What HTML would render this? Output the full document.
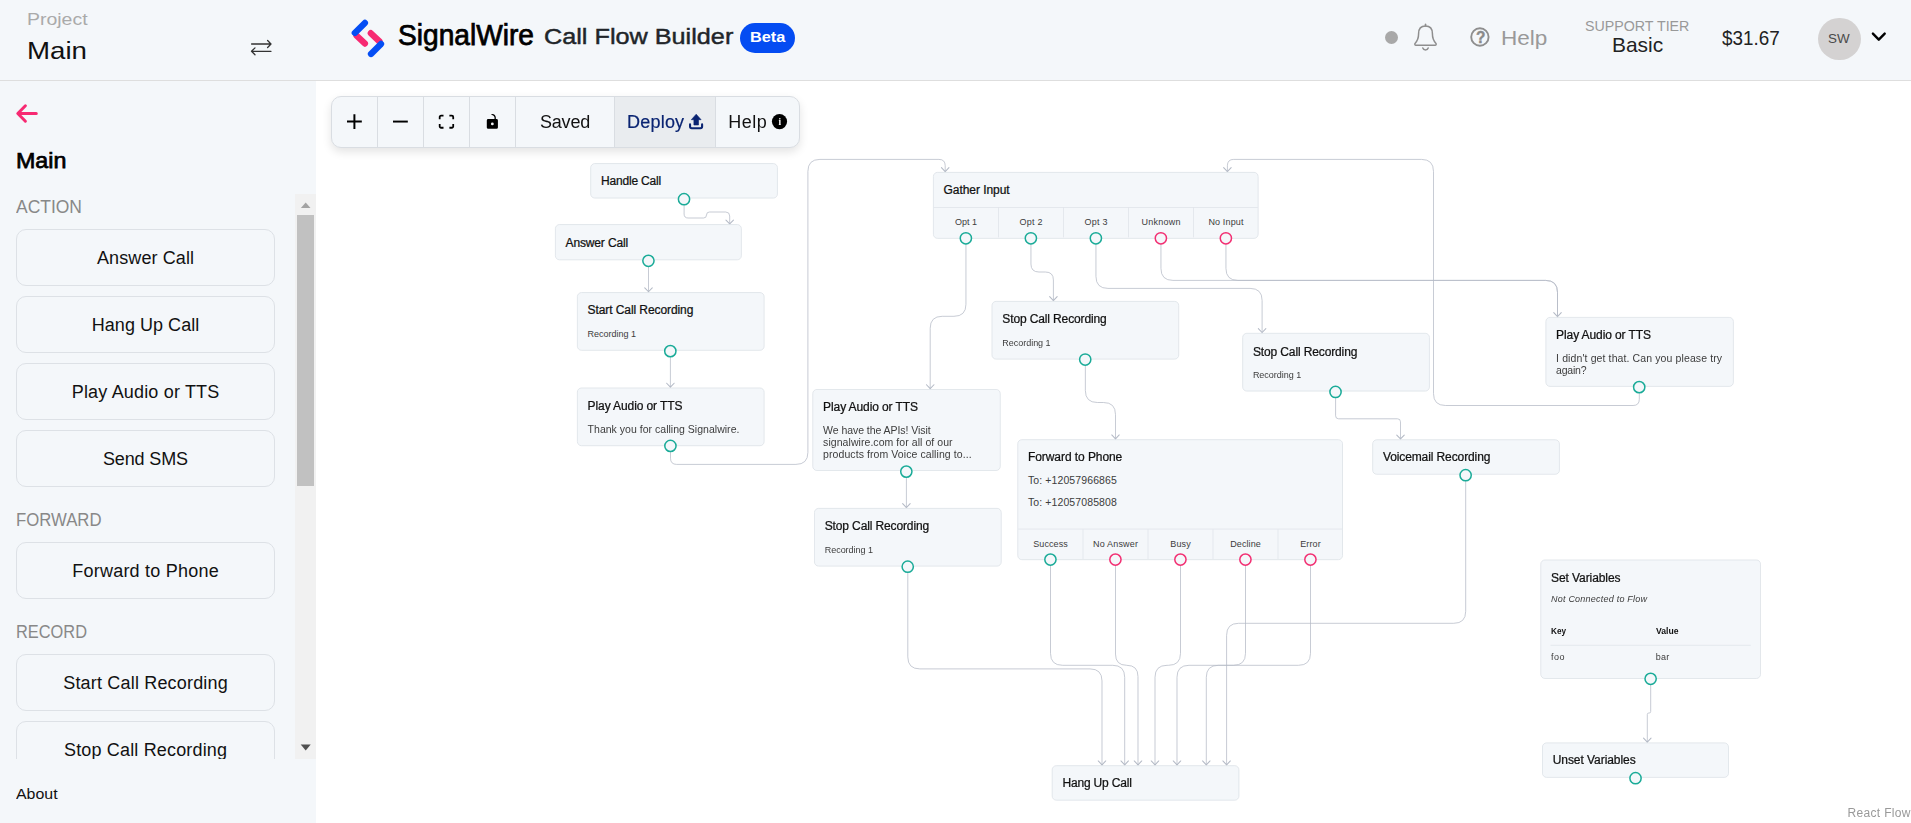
<!DOCTYPE html>
<html lang="en">
<head>
<meta charset="utf-8">
<title>SignalWire Call Flow Builder</title>
<style>
html,body{margin:0;padding:0;}
body{width:1911px;height:823px;overflow:hidden;position:relative;background:#fff;font-family:"Liberation Sans",sans-serif;}
.t{position:absolute;white-space:pre;line-height:1;}
.abs{position:absolute;}
.hdr{position:absolute;left:0;top:0;width:1911px;height:80px;background:#f4f7fa;border-bottom:1px solid #dedede;}
.side{position:absolute;left:0;top:81px;width:316px;height:742px;background:#f4f7fa;}
.btn{position:absolute;left:16px;width:257px;height:55px;border:1px solid #dde1e6;border-radius:10px;background:#f4f7fa;box-sizing:content-box;}
.cv{position:absolute;left:0;top:0;width:2548px;height:1098px;transform-origin:0 0;transform:scale(0.75);}
.n{position:absolute;left:0;top:0;box-sizing:border-box;background:#f4f7fa;border:1px solid #dbe0e6;border-radius:6px;}
.h{position:absolute;left:0;top:0;width:17.2px;height:17.2px;box-sizing:border-box;border:2.7px solid #1aab98;border-radius:50%;background:#f4f7fa;}
.h.p{border-color:#f22f72;}
.edges{position:absolute;left:0;top:0;}
.vl{position:absolute;left:0;top:0;width:1px;background:#dfe3e9;}
.hl{position:absolute;left:0;top:0;height:1px;background:#dfe3e9;}

</style>
</head>
<body>
<div class="cv">
<svg class="edges" width="2560" height="1100" viewBox="0 0 2560 1100" fill="none" stroke="#b4bac6" stroke-width="1" stroke-linecap="round" stroke-linejoin="round">
<path d="M912.13,273.33 L912.13,285.33 Q912.13,290.67 917.47,290.67 L938.00,290.67 Q942.00,290.67 942.00,286.67 L942.00,286.67 Q942.00,282.67 946.00,282.67 L967.60,282.67 Q972.93,282.67 972.93,288.00 L972.93,299.20"/>
<path stroke-width="1.4" d="M967.93,293.40 L972.93,298.60 L977.93,293.40"/>
<path d="M864.67,356.00 L864.67,389.60"/>
<path stroke-width="1.4" d="M859.67,383.80 L864.67,389.00 L869.67,383.80"/>
<path d="M893.87,476.00 L893.87,516.80"/>
<path stroke-width="1.4" d="M888.87,511.00 L893.87,516.20 L898.87,511.00"/>
<path d="M894.00,602.67 L894.00,610.93 Q894.00,619.20 902.27,619.20 L1061.20,619.20 Q1077.20,619.20 1077.20,603.20 L1077.20,228.53 Q1077.20,212.53 1093.20,212.53 L1251.87,212.53 Q1260.27,212.53 1260.27,220.93 L1260.27,229.33"/>
<path stroke-width="1.4" d="M1255.27,223.53 L1260.27,228.73 L1265.27,223.53"/>
<path d="M1287.93,325.33 L1287.93,405.73 Q1287.93,421.73 1271.93,421.73 L1256.27,421.73 Q1240.27,421.73 1240.27,437.73 L1240.27,518.80"/>
<path stroke-width="1.4" d="M1235.27,513.00 L1240.27,518.20 L1245.27,513.00"/>
<path d="M1374.60,325.33 L1374.60,352.00 Q1374.60,362.67 1385.27,362.67 L1393.87,362.67 Q1404.53,362.67 1404.53,373.33 L1404.53,401.33"/>
<path stroke-width="1.4" d="M1399.53,395.53 L1404.53,400.73 L1409.53,395.53"/>
<path d="M1461.27,325.33 L1461.27,368.53 Q1461.27,384.53 1477.27,384.53 L1666.80,384.53 Q1682.80,384.53 1682.80,400.53 L1682.80,443.93"/>
<path stroke-width="1.4" d="M1677.80,438.13 L1682.80,443.33 L1687.80,438.13"/>
<path d="M1547.93,325.33 L1547.93,357.87 Q1547.93,373.87 1563.93,373.87 L2060.67,373.87 Q2076.67,373.87 2076.67,389.87 L2076.67,422.67"/>
<path stroke-width="1.4" d="M2071.67,416.87 L2076.67,422.07 L2081.67,416.87"/>
<path d="M1634.60,325.33 L1634.60,357.87 Q1634.60,373.87 1650.60,373.87 L2060.67,373.87 Q2076.67,373.87 2076.67,389.87 L2076.67,422.93"/>
<path d="M2185.73,524.00 L2185.73,532.33 Q2185.73,540.67 2177.40,540.67 L1927.33,540.67 Q1911.33,540.67 1911.33,524.67 L1911.33,228.53 Q1911.33,212.53 1895.33,212.53 L1644.93,212.53 Q1636.53,212.53 1636.53,220.93 L1636.53,229.33"/>
<path stroke-width="1.4" d="M1631.53,223.53 L1636.53,228.73 L1641.53,223.53"/>
<path d="M1447.13,488.00 L1447.13,520.67 Q1447.13,536.67 1463.13,536.67 L1471.33,536.67 Q1487.33,536.67 1487.33,552.67 L1487.33,585.73"/>
<path stroke-width="1.4" d="M1482.33,579.93 L1487.33,585.13 L1492.33,579.93"/>
<path d="M1780.80,530.67 L1780.80,554.40 Q1780.80,558.40 1784.80,558.40 L1863.33,558.40 Q1867.33,558.40 1867.33,562.40 L1867.33,585.87"/>
<path stroke-width="1.4" d="M1862.33,580.07 L1867.33,585.27 L1872.33,580.07"/>
<path d="M1208.53,637.33 L1208.53,677.33"/>
<path stroke-width="1.4" d="M1203.53,671.53 L1208.53,676.73 L1213.53,671.53"/>
<path d="M1210.40,764.00 L1210.40,875.87 Q1210.40,891.87 1226.40,891.87 L1453.33,891.87 Q1469.33,891.87 1469.33,907.87 L1469.33,1020.40"/>
<path stroke-width="1.4" d="M1464.33,1014.60 L1469.33,1019.80 L1474.33,1014.60"/>
<path d="M1400.67,753.33 L1400.67,871.07 Q1400.67,887.07 1416.67,887.07 L1483.60,887.07 Q1499.60,887.07 1499.60,903.07 L1499.60,1020.40"/>
<path stroke-width="1.4" d="M1494.60,1014.60 L1499.60,1019.80 L1504.60,1014.60"/>
<path d="M1487.33,753.33 L1487.33,872.07 Q1487.33,887.07 1502.33,887.07 L1502.33,887.07 Q1517.33,887.07 1517.33,902.07 L1517.33,1020.40"/>
<path stroke-width="1.4" d="M1512.33,1014.60 L1517.33,1019.80 L1522.33,1014.60"/>
<path d="M1574.00,753.33 L1574.00,871.07 Q1574.00,887.07 1558.00,887.07 L1556.00,887.07 Q1540.00,887.07 1540.00,903.07 L1540.00,1020.40"/>
<path stroke-width="1.4" d="M1535.00,1014.60 L1540.00,1019.80 L1545.00,1014.60"/>
<path d="M1660.67,753.33 L1660.67,871.07 Q1660.67,887.07 1644.67,887.07 L1585.33,887.07 Q1569.33,887.07 1569.33,903.07 L1569.33,1020.40"/>
<path stroke-width="1.4" d="M1564.33,1014.60 L1569.33,1019.80 L1574.33,1014.60"/>
<path d="M1747.33,753.33 L1747.33,871.07 Q1747.33,887.07 1731.33,887.07 L1624.40,887.07 Q1608.40,887.07 1608.40,903.07 L1608.40,1020.40"/>
<path stroke-width="1.4" d="M1603.40,1014.60 L1608.40,1019.80 L1613.40,1014.60"/>
<path d="M1954.27,641.33 L1954.27,815.07 Q1954.27,831.07 1938.27,831.07 L1651.47,831.07 Q1635.47,831.07 1635.47,847.07 L1635.47,1020.40"/>
<path stroke-width="1.4" d="M1630.47,1014.60 L1635.47,1019.80 L1640.47,1014.60"/>
<path d="M2200.93,913.33 L2200.93,948.67 Q2200.93,950.67 2198.93,950.67 L2198.40,950.67 Q2196.40,950.67 2196.40,952.67 L2196.40,990.00"/>
<path stroke-width="1.4" d="M2191.40,984.20 L2196.40,989.40 L2201.40,984.20"/>
</svg>
<div class="n" style="transform:translate(787.07px,217.60px);width:250.13px;height:47.47px"></div>
<div class="t" style="left:801.47px;top:233.99px;font-size:16.0px;color:#111;font-weight:500;letter-spacing:-0.272px;-webkit-text-stroke:0.33px #111;">Handle Call</div>
<div class="n" style="transform:translate(740.00px,298.93px);width:249.47px;height:48.27px"></div>
<div class="t" style="left:754.13px;top:316.12px;font-size:16.0px;color:#111;font-weight:500;letter-spacing:-0.203px;-webkit-text-stroke:0.33px #111;">Answer Call</div>
<div class="n" style="transform:translate(769.33px,389.60px);width:250.00px;height:77.73px"></div>
<div class="t" style="left:783.47px;top:405.99px;font-size:16.0px;color:#111;font-weight:500;letter-spacing:-0.118px;-webkit-text-stroke:0.33px #111;">Start Call Recording</div>
<div class="t" style="left:783.47px;top:439.04px;font-size:12.0px;color:#3c3c3c;letter-spacing:-0.032px;">Recording 1</div>
<div class="n" style="transform:translate(769.33px,516.80px);width:250.00px;height:77.73px"></div>
<div class="t" style="left:783.47px;top:533.46px;font-size:16.0px;color:#111;font-weight:500;letter-spacing:-0.133px;-webkit-text-stroke:0.33px #111;">Play Audio or TTS</div>
<div class="t" style="left:783.47px;top:564.95px;font-size:14.0px;color:#3c3c3c;letter-spacing:0.027px;">Thank you for calling Signalwire.</div>
<div class="n" style="transform:translate(1083.20px,518.80px);width:250.67px;height:108.53px"></div>
<div class="t" style="left:1097.47px;top:535.46px;font-size:16.0px;color:#111;font-weight:500;letter-spacing:-0.133px;-webkit-text-stroke:0.33px #111;">Play Audio or TTS</div>
<div class="t" style="left:1097.47px;top:567.08px;font-size:14.0px;color:#3c3c3c;letter-spacing:-0.076px;">We have the APIs! Visit</div>
<div class="t" style="left:1097.47px;top:583.22px;font-size:14.0px;color:#3c3c3c;letter-spacing:0.081px;">signalwire.com for all of our</div>
<div class="t" style="left:1097.47px;top:599.35px;font-size:14.0px;color:#3c3c3c;letter-spacing:0.108px;">products from Voice calling to...</div>
<div class="n" style="transform:translate(1244.00px,229.33px);width:434.00px;height:88.80px"></div>
<div class="t" style="left:1258.13px;top:245.46px;font-size:16.0px;color:#111;font-weight:500;letter-spacing:-0.087px;-webkit-text-stroke:0.33px #111;">Gather Input</div>
<div class="hl" style="transform:translate(1245.07px,276.03px);width:432.00px"></div>
<div class="t" style="left:1273.27px;top:290.11px;font-size:12.0px;color:#3c3c3c;letter-spacing:-0.007px;">Opt 1</div>
<div class="vl" style="transform:translate(1330.70px,276.53px);height:40.40px"></div>
<div class="t" style="left:1359.27px;top:290.11px;font-size:12.0px;color:#3c3c3c;letter-spacing:0.327px;">Opt 2</div>
<div class="vl" style="transform:translate(1417.37px,276.53px);height:40.40px"></div>
<div class="t" style="left:1445.93px;top:290.11px;font-size:12.0px;color:#3c3c3c;letter-spacing:0.327px;">Opt 3</div>
<div class="vl" style="transform:translate(1504.03px,276.53px);height:40.40px"></div>
<div class="t" style="left:1521.93px;top:290.11px;font-size:12.0px;color:#3c3c3c;letter-spacing:0.328px;">Unknown</div>
<div class="vl" style="transform:translate(1590.70px,276.53px);height:40.40px"></div>
<div class="t" style="left:1611.27px;top:290.11px;font-size:12.0px;color:#3c3c3c;letter-spacing:0.185px;">No Input</div>
<div class="n" style="transform:translate(1322.13px,401.33px);width:249.87px;height:77.73px"></div>
<div class="t" style="left:1336.40px;top:417.72px;font-size:16.0px;color:#111;font-weight:500;letter-spacing:-0.165px;-webkit-text-stroke:0.33px #111;">Stop Call Recording</div>
<div class="t" style="left:1336.40px;top:450.51px;font-size:12.0px;color:#3c3c3c;letter-spacing:-0.032px;">Recording 1</div>
<div class="n" style="transform:translate(1656.40px,443.93px);width:249.60px;height:78.13px"></div>
<div class="t" style="left:1670.53px;top:460.79px;font-size:16.0px;color:#111;font-weight:500;letter-spacing:-0.165px;-webkit-text-stroke:0.33px #111;">Stop Call Recording</div>
<div class="t" style="left:1670.53px;top:493.58px;font-size:12.0px;color:#3c3c3c;letter-spacing:-0.032px;">Recording 1</div>
<div class="n" style="transform:translate(2060.67px,422.67px);width:250.93px;height:93.33px"></div>
<div class="t" style="left:2074.80px;top:438.79px;font-size:16.0px;color:#111;font-weight:500;letter-spacing:-0.133px;-webkit-text-stroke:0.33px #111;">Play Audio or TTS</div>
<div class="t" style="left:2074.80px;top:470.55px;font-size:14.0px;color:#3c3c3c;letter-spacing:0.150px;">I didn&#x27;t get that. Can you please try</div>
<div class="t" style="left:2074.80px;top:486.68px;font-size:14.0px;color:#3c3c3c;letter-spacing:-0.276px;">again?</div>
<div class="n" style="transform:translate(1356.53px,585.73px);width:434.00px;height:160.80px"></div>
<div class="t" style="left:1370.67px;top:601.72px;font-size:16.0px;color:#111;font-weight:500;letter-spacing:-0.097px;-webkit-text-stroke:0.33px #111;">Forward to Phone</div>
<div class="t" style="left:1370.67px;top:633.22px;font-size:14.0px;color:#3c3c3c;letter-spacing:0.134px;">To: +12057966865</div>
<div class="t" style="left:1370.67px;top:662.55px;font-size:14.0px;color:#3c3c3c;letter-spacing:0.134px;">To: +12057085808</div>
<div class="hl" style="transform:translate(1357.60px,704.90px);width:432.00px"></div>
<div class="t" style="left:1377.67px;top:718.51px;font-size:12.0px;color:#3c3c3c;letter-spacing:0.107px;">Success</div>
<div class="vl" style="transform:translate(1443.50px,705.73px);height:40.40px"></div>
<div class="t" style="left:1457.33px;top:718.51px;font-size:12.0px;color:#3c3c3c;letter-spacing:0.246px;">No Answer</div>
<div class="vl" style="transform:translate(1530.17px,705.73px);height:40.40px"></div>
<div class="t" style="left:1560.33px;top:718.51px;font-size:12.0px;color:#3c3c3c;letter-spacing:0.215px;">Busy</div>
<div class="vl" style="transform:translate(1616.83px,705.73px);height:40.40px"></div>
<div class="t" style="left:1640.33px;top:718.51px;font-size:12.0px;color:#3c3c3c;letter-spacing:0.106px;">Decline</div>
<div class="vl" style="transform:translate(1703.50px,705.73px);height:40.40px"></div>
<div class="t" style="left:1733.67px;top:718.51px;font-size:12.0px;color:#3c3c3c;letter-spacing:0.165px;">Error</div>
<div class="n" style="transform:translate(1829.73px,585.87px);width:249.73px;height:47.20px"></div>
<div class="t" style="left:1843.87px;top:602.12px;font-size:16.0px;color:#111;font-weight:500;letter-spacing:-0.140px;-webkit-text-stroke:0.33px #111;">Voicemail Recording</div>
<div class="n" style="transform:translate(1085.47px,677.33px);width:250.00px;height:78.27px"></div>
<div class="t" style="left:1099.60px;top:693.59px;font-size:16.0px;color:#111;font-weight:500;letter-spacing:-0.165px;-webkit-text-stroke:0.33px #111;">Stop Call Recording</div>
<div class="t" style="left:1099.60px;top:726.51px;font-size:12.0px;color:#3c3c3c;letter-spacing:-0.032px;">Recording 1</div>
<div class="n" style="transform:translate(1402.40px,1020.40px);width:249.73px;height:47.33px"></div>
<div class="t" style="left:1416.53px;top:1036.26px;font-size:16.0px;color:#111;font-weight:500;letter-spacing:-0.226px;-webkit-text-stroke:0.33px #111;">Hang Up Call</div>
<div class="n" style="transform:translate(2053.87px,746.13px);width:293.87px;height:158.67px"></div>
<div class="t" style="left:2068.00px;top:762.79px;font-size:16.0px;color:#111;font-weight:500;letter-spacing:-0.110px;-webkit-text-stroke:0.33px #111;">Set Variables</div>
<div class="t" style="left:2068.00px;top:793.04px;font-size:12.0px;color:#3c3c3c;font-style:italic;letter-spacing:0.297px;">Not Connected to Flow</div>
<div class="t" style="left:2068.00px;top:834.91px;font-size:12.0px;color:#111;font-weight:700;transform:scaleX(0.9084);transform-origin:0 0;">Key</div>
<div class="t" style="left:2207.73px;top:834.91px;font-size:12.0px;color:#111;font-weight:700;transform:scaleX(0.9567);transform-origin:0 0;">Value</div>
<div class="hl" style="transform:translate(2067.33px,859.77px);width:267.07px"></div>
<div class="t" style="left:2068.00px;top:870.38px;font-size:12.0px;color:#3c3c3c;letter-spacing:0.656px;">foo</div>
<div class="t" style="left:2207.73px;top:870.38px;font-size:12.0px;color:#3c3c3c;letter-spacing:0.328px;">bar</div>
<div class="n" style="transform:translate(2056.13px,990.00px);width:249.33px;height:46.93px"></div>
<div class="t" style="left:2070.27px;top:1005.86px;font-size:16.0px;color:#111;font-weight:500;letter-spacing:-0.078px;-webkit-text-stroke:0.33px #111;">Unset Variables</div>
<div class="h" style="transform:translate(903.53px,257.13px)"></div>
<div class="h" style="transform:translate(856.07px,339.27px)"></div>
<div class="h" style="transform:translate(885.27px,459.67px)"></div>
<div class="h" style="transform:translate(885.40px,586.07px)"></div>
<div class="h" style="transform:translate(1199.93px,620.33px)"></div>
<div class="h" style="transform:translate(1279.33px,309.20px)"></div>
<div class="h" style="transform:translate(1366.00px,309.20px)"></div>
<div class="h" style="transform:translate(1452.67px,309.20px)"></div>
<div class="h p" style="transform:translate(1539.33px,309.20px)"></div>
<div class="h p" style="transform:translate(1626.00px,309.20px)"></div>
<div class="h" style="transform:translate(1438.47px,470.87px)"></div>
<div class="h" style="transform:translate(1772.20px,514.13px)"></div>
<div class="h" style="transform:translate(2177.13px,507.67px)"></div>
<div class="h" style="transform:translate(1392.07px,737.60px)"></div>
<div class="h p" style="transform:translate(1478.73px,737.60px)"></div>
<div class="h p" style="transform:translate(1565.40px,737.60px)"></div>
<div class="h p" style="transform:translate(1652.07px,737.60px)"></div>
<div class="h p" style="transform:translate(1738.73px,737.60px)"></div>
<div class="h" style="transform:translate(1945.67px,625.13px)"></div>
<div class="h" style="transform:translate(1201.80px,747.13px)"></div>
<div class="h" style="transform:translate(2192.33px,896.60px)"></div>
<div class="h" style="transform:translate(2172.20px,1029.13px)"></div>
</div>
<div class="t" style="left:1847.50px;top:806.64px;font-size:12.0px;color:#999;letter-spacing:0.330px;">React Flow</div>
<div class="abs" style="left:331px;top:96px;width:469px;height:52px;box-sizing:border-box;border:1px solid #d9dde2;border-radius:10px;background:#f4f7fa;box-shadow:0 4px 10px rgba(0,0,0,.11);overflow:hidden">
<div class="abs" style="left:283px;top:0;width:100px;height:50px;background:#e9ecef"></div>
<div class="vl" style="left:45px;top:0;height:50px;background:#d9dde2"></div>
<div class="vl" style="left:91px;top:0;height:50px;background:#d9dde2"></div>
<div class="vl" style="left:137px;top:0;height:50px;background:#d9dde2"></div>
<div class="vl" style="left:183px;top:0;height:50px;background:#d9dde2"></div>
<div class="vl" style="left:282px;top:0;height:50px;background:#d9dde2"></div>
<div class="vl" style="left:383px;top:0;height:50px;background:#d9dde2"></div>
</div>
<svg class="abs" style="left:331px;top:96px" width="470" height="52" viewBox="331 96 470 52" fill="none">
<g transform="translate(347,114.2) scale(0.463)" fill="#000"><path d="M32 18.133H18.133V32h-4.266V18.133H0v-4.266h13.867V0h4.266v13.867H32z"/></g>
<g transform="translate(393,120.6) scale(0.463)" fill="#000"><path d="M0 0h32v4.2H0z"/></g>
<g transform="translate(438.8,114.7) scale(0.478,0.472)" fill="#000"><path d="M3.692 4.63c0-.53.4-.938.939-.938h5.215V0H4.708C2.13 0 0 2.054 0 4.63v5.216h3.692V4.631zM27.354 0h-5.2v3.692h5.17c.53 0 .984.4.984.939v5.215H32V4.631A4.624 4.624 0 0027.354 0zm.954 24.83c0 .532-.4.94-.939.94h-5.215v3.768h5.215c2.577 0 4.631-2.13 4.631-4.707v-5.139h-3.692v5.139zm-23.677.94c-.531 0-.939-.4-.939-.94v-5.138H0v5.139c0 2.577 2.13 4.707 4.708 4.707h5.138V25.77H4.631z"/></g>
<g transform="translate(486.8,114.1) scale(0.456,0.459)" fill="#000"><path d="M21.333 10.667H19.81V7.619C19.81 3.429 16.38 0 12.19 0c-4.114 1.828-1.37 2.133.305 2.438 1.676.305 4.42 2.59 4.42 5.181v3.048H3.047A3.056 3.056 0 000 13.714v15.238A3.056 3.056 0 003.048 32h18.285a3.056 3.056 0 003.048-3.048V13.714a3.056 3.056 0 00-3.048-3.047zM12.19 24.533a3.056 3.056 0 01-3.047-3.047 3.056 3.056 0 013.047-3.048 3.056 3.056 0 013.048 3.048 3.056 3.056 0 01-3.048 3.047z"/></g>
<path d="M696.2,114.2 L701.1,119.7 H698.5 V125 H693.9 V119.7 H691.3 Z" fill="#0a2472" stroke="#0a2472" stroke-width="0.6" stroke-linejoin="round"/>
<path d="M690.05,124.4 V126.5 a1.7,1.7 0 0 0 1.7,1.7 H700.4 a1.7,1.7 0 0 0 1.7,-1.7 V124.4" stroke="#0a2472" stroke-width="2.1" stroke-linecap="round"/>
<circle cx="779.5" cy="121.6" r="7.6" fill="#000"/>
</svg>
<div class="t" style="left:540.00px;top:112.76px;font-size:18.0px;color:#111;letter-spacing:-0.212px;">Saved</div>
<div class="t" style="left:627.10px;top:112.76px;font-size:18.0px;color:#0a2472;letter-spacing:0.194px;-webkit-text-stroke:0.2px #0a2472;">Deploy</div>
<div class="t" style="left:728.20px;top:112.76px;font-size:18.0px;color:#111;letter-spacing:0.523px;">Help</div>
<div class="t" style="left:778.40px;top:117.94px;font-size:9.4px;color:#fff;font-weight:700;font-family:'Liberation Serif',serif;">i</div>
<div class="hdr"></div>
<div class="t" style="left:27.10px;top:10.51px;font-size:17.0px;color:#aaa;transform:scaleX(1.1451);transform-origin:0 0;">Project</div>
<div class="t" style="left:27.10px;top:38.55px;font-size:24.4px;color:#111;transform:scaleX(1.1348);transform-origin:0 0;">Main</div>
<svg class="abs" style="left:248px;top:36px" width="26" height="22" viewBox="248 36 26 22" fill="none" stroke="#333" stroke-width="1.3" stroke-linecap="round" stroke-linejoin="round">
<path d="M251.6,44 H270.6 M267.6,40.5 L271,44 L267.6,47.5"/>
<path d="M271,51.3 H251.8 M255,47.9 L251.5,51.3 L255,54.7"/>
</svg>
<svg class="abs" style="left:348px;top:16px" width="40" height="44" viewBox="348 16 40 44" fill="none" stroke-width="6.3" stroke-linecap="round">
<path d="M356.4,35.4 L364.9,43.6" stroke="#f72a72"/>
<path d="M370.8,33.2 L379.4,41.4" stroke="#f72a72"/>
<path d="M364.9,22.9 L354.8,32.9" stroke="#044ef4"/>
<path d="M381,43.9 L371,53.9" stroke="#044ef4"/>
</svg>
<div class="t" style="left:397.80px;top:20.99px;font-size:28.6px;color:#000;transform:scaleX(0.9837);transform-origin:0 0;-webkit-text-stroke:0.75px #000;">SignalWire</div>
<div class="t" style="left:544.30px;top:26.14px;font-size:22.4px;color:#212529;transform:scaleX(1.1268);transform-origin:0 0;-webkit-text-stroke:0.45px #212529;">Call Flow Builder</div>
<div class="abs" style="left:740.2px;top:23px;width:55px;height:30px;border-radius:15px;background:#044cf2"></div>
<div class="t" style="left:749.90px;top:30.27px;font-size:14.8px;color:#fff;font-weight:700;transform:scaleX(1.1036);transform-origin:0 0;">Beta</div>
<div class="abs" style="left:1385px;top:31.2px;width:13px;height:13px;border-radius:50%;background:#a8a8a8"></div>
<svg class="abs" style="left:1410px;top:20px" width="32" height="36" viewBox="1410 20 32 36" fill="none" stroke="#8e8e8e" stroke-width="1.5" stroke-linecap="round" stroke-linejoin="round">
<path d="M1425.5,24.3 V26"/>
<path d="M1425.5,26 C1420.8,26 1418.6,29.4 1418.6,33.6 C1418.6,38.6 1417.6,40.8 1415.2,43.2 C1414.4,44 1414.8,45.2 1416,45.2 H1435 C1436.2,45.2 1436.6,44 1435.8,43.2 C1433.4,40.8 1432.4,38.6 1432.4,33.6 C1432.4,29.4 1430.2,26 1425.5,26 Z"/>
<path d="M1422.8,48 C1423.6,50.6 1427.4,50.6 1428.2,48"/>
</svg>
<svg class="abs" style="left:1468px;top:25px" width="24" height="24" viewBox="1468 25 24 24" fill="none" stroke="#8e8e8e" stroke-width="1.6" stroke-linecap="round" stroke-linejoin="round">
<circle cx="1479.9" cy="37" r="8.7" stroke-width="1.9"/>
</svg>
<div class="t" style="left:1500.90px;top:27.75px;font-size:20.2px;color:#999;transform:scaleX(1.1172);transform-origin:0 0;">Help</div>
<div class="t" style="left:1475.70px;top:29.12px;font-size:16.4px;color:#8a8a8a;font-weight:700;transform:scaleX(0.9385);transform-origin:0 0;-webkit-text-stroke:0.4px #8a8a8a;">?</div>
<div class="t" style="left:1585.00px;top:19.03px;font-size:14.2px;color:#999;transform:scaleX(1.0031);transform-origin:0 0;">SUPPORT TIER</div>
<div class="t" style="left:1612.10px;top:34.80px;font-size:20.2px;color:#222;transform:scaleX(1.0370);transform-origin:0 0;">Basic</div>
<div class="t" style="left:1722.40px;top:27.87px;font-size:20.0px;color:#222;transform:scaleX(0.9416);transform-origin:0 0;">$31.67</div>
<div class="abs" style="left:1818px;top:17.5px;width:42.8px;height:42.8px;border-radius:50%;background:#d4d2d2"></div>
<div class="t" style="left:1827.80px;top:32.38px;font-size:13.2px;color:#4a4a4a;transform:scaleX(1.0165);transform-origin:0 0;">SW</div>
<svg class="abs" style="left:1868px;top:28px" width="22" height="18" viewBox="1868 28 22 18" fill="none" stroke="#000" stroke-width="2.4" stroke-linecap="round" stroke-linejoin="round">
<path d="M1872.9,33.6 L1878.8,39.7 L1884.7,33.6"/>
</svg>
<div class="side"></div>
<svg class="abs" style="left:12px;top:100px" width="30" height="28" viewBox="12 100 30 28" fill="none" stroke="#f72a72" stroke-width="3" stroke-linecap="round" stroke-linejoin="round">
<path d="M18.4,113.5 H36.3 M25.4,105.8 L17.8,113.5 L25.4,121.2"/>
</svg>
<div class="t" style="left:16.20px;top:149.67px;font-size:22.6px;color:#000;transform:scaleX(1.0289);transform-origin:0 0;-webkit-text-stroke:0.75px #000;">Main</div>
<div class="t" style="left:16.00px;top:197.76px;font-size:18.0px;color:#888;transform:scaleX(0.9704);transform-origin:0 0;">ACTION</div>
<div class="btn" style="top:229.4px"></div>
<div class="t" style="left:97.00px;top:249.16px;font-size:18.0px;color:#111;letter-spacing:0.097px;">Answer Call</div>
<div class="btn" style="top:296.4px"></div>
<div class="t" style="left:91.75px;top:316.16px;font-size:18.0px;color:#111;letter-spacing:0.040px;">Hang Up Call</div>
<div class="btn" style="top:363.4px"></div>
<div class="t" style="left:71.75px;top:383.16px;font-size:18.0px;color:#111;letter-spacing:0.172px;">Play Audio or TTS</div>
<div class="btn" style="top:430.4px"></div>
<div class="t" style="left:103.00px;top:450.16px;font-size:18.0px;color:#111;letter-spacing:-0.150px;">Send SMS</div>
<div class="t" style="left:16.00px;top:511.16px;font-size:18.0px;color:#888;transform:scaleX(0.9293);transform-origin:0 0;">FORWARD</div>
<div class="btn" style="top:542.4px"></div>
<div class="t" style="left:72.25px;top:562.16px;font-size:18.0px;color:#111;letter-spacing:0.228px;">Forward to Phone</div>
<div class="t" style="left:16.00px;top:623.16px;font-size:18.0px;color:#888;transform:scaleX(0.9101);transform-origin:0 0;">RECORD</div>
<div class="btn" style="top:654.4px"></div>
<div class="t" style="left:63.25px;top:674.16px;font-size:18.0px;color:#111;letter-spacing:0.180px;">Start Call Recording</div>
<div class="btn" style="top:721.4px"></div>
<div class="t" style="left:64.00px;top:741.16px;font-size:18.0px;color:#111;letter-spacing:0.161px;">Stop Call Recording</div>
<div class="abs" style="left:0;top:759px;width:316px;height:64px;background:#f4f7fa"></div>
<div class="t" style="left:16.20px;top:785.70px;font-size:15.0px;color:#111;transform:scaleX(1.0611);transform-origin:0 0;">About</div>
<div class="abs" style="left:295px;top:194px;width:21px;height:565px;background:#f1f1f1"></div>
<div class="abs" style="left:297px;top:215px;width:17px;height:270.5px;background:#c1c1c1"></div>
<svg class="abs" style="left:295px;top:194px" width="21" height="565" viewBox="295 194 21 565">
<path d="M300.9,208 L305.7,202.5 L310.5,208 Z" fill="#a3a3a3"/>
<path d="M300.7,744.6 L305.7,750.4 L310.7,744.6 Z" fill="#505050"/>
</svg>
</body>
</html>
